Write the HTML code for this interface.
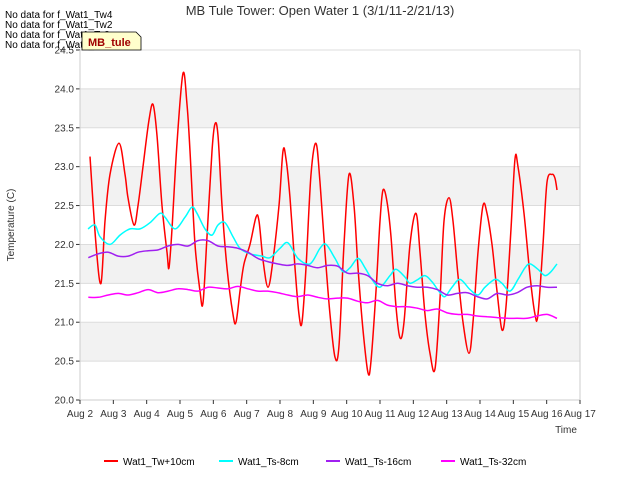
<!DOCTYPE html>
<html><head><meta charset="utf-8"><style>
body{margin:0;background:#fff;font-family:"Liberation Sans",sans-serif}
svg text{font-family:"Liberation Sans",sans-serif}
</style></head><body>
<svg id="chart" width="640" height="480" xmlns="http://www.w3.org/2000/svg">
<rect width="640" height="480" fill="#fff"/>
<g id="bands"></g>
<g id="grid"></g>
<g id="axes"></g>
<g id="series"></g>
<text x="320" y="15" text-anchor="middle" font-size="13" fill="#333">MB Tule Tower: Open Water 1 (3/1/11-2/21/13)</text>
<text x="14" y="225" transform="rotate(-90 14 225)" text-anchor="middle" font-size="10" fill="#333">Temperature (C)</text>
<text x="566" y="433" text-anchor="middle" font-size="10" fill="#333">Time</text>
<g font-size="10" fill="#000">
<text x="5" y="18">No data for f_Wat1_Tw4</text>
<text x="5" y="28">No data for f_Wat1_Tw2</text>
<text x="5" y="38">No data for f_Wat1_Ts2</text>
<text x="5" y="48">No data for f_Wat1_Ts4</text>
</g>
<g>
<path d="M82,32 L136,32 L141,37 L141,50 L82,50 Z" fill="#ffffcc" stroke="#000" stroke-width="0.8"/>
<text x="88" y="46" font-size="11" font-weight="bold" fill="#a00000">MB_tule</text>
</g>
<g id="legend" font-size="10" fill="#000"></g>
</svg>
<script>
const yTicks=[20.0,20.5,21.0,21.5,22.0,22.5,23.0,23.5,24.0,24.5];
const xTickLabels=["Aug 2","Aug 3","Aug 4","Aug 5","Aug 6","Aug 7","Aug 8","Aug 9","Aug 10","Aug 11","Aug 12","Aug 13","Aug 14","Aug 15","Aug 16","Aug 17"];
const seriesNames=["Wat1_Tw+10cm","Wat1_Ts-8cm","Wat1_Ts-16cm","Wat1_Ts-32cm"];
const redT=[.30,.48,.63,.75,.90,1.17,1.35,1.44,1.62,1.74,1.89,2.07,2.19,2.31,2.46,2.61,2.67,2.76,2.91,3.09,3.21,3.30,3.45,3.60,3.69,3.81,3.96,4.05,4.14,4.26,4.41,4.59,4.68,4.80,4.92,5.10,5.28,5.37,5.49,5.64,5.79,5.97,6.09,6.18,6.30,6.45,6.57,6.66,6.78,6.93,7.08,7.20,7.35,7.50,7.65,7.77,7.92,8.07,8.22,8.34,8.49,8.64,8.73,8.88,9.00,9.09,9.21,9.33,9.48,9.60,9.72,9.90,10.08,10.20,10.35,10.50,10.65,10.80,10.92,11.07,11.19,11.34,11.49,11.67,11.79,11.94,12.09,12.21,12.36,12.51,12.66,12.78,12.93,13.05,13.14,13.32,13.50,13.65,13.74,13.89,14.01,14.16,14.25,14.31];
const redV=[23.13,22.0,21.5,22.3,22.9,23.3,22.9,22.6,22.25,22.5,23.0,23.6,23.8,23.4,22.5,21.9,21.7,22.2,23.3,24.2,23.8,23.2,22.0,21.4,21.25,22.1,23.2,23.55,23.4,22.5,21.7,21.1,21.0,21.4,21.75,22.0,22.35,22.3,21.8,21.45,21.8,22.5,23.2,23.1,22.6,21.7,21.1,21.0,21.7,22.9,23.3,22.8,21.9,21.1,20.55,20.7,22.0,22.9,22.5,21.7,20.9,20.35,20.5,21.4,22.3,22.7,22.55,22.1,21.2,20.8,21.0,22.0,22.4,21.9,21.1,20.6,20.4,21.3,22.3,22.6,22.3,21.6,21.0,20.6,21.0,21.9,22.5,22.4,22.0,21.4,20.9,21.2,22.2,23.1,23.0,22.4,21.6,21.1,21.1,22.0,22.8,22.9,22.85,22.7];
const cyanT=[.24,.45,.60,.90,1.20,1.50,1.80,2.10,2.40,2.55,2.85,3.15,3.36,3.51,3.75,3.96,4.14,4.35,4.59,4.80,5.10,5.46,5.70,6.00,6.24,6.54,6.90,7.20,7.38,7.65,7.89,8.10,8.34,8.55,8.76,9.00,9.30,9.48,9.75,9.90,10.14,10.35,10.56,10.80,10.95,11.16,11.40,11.70,11.94,12.15,12.45,12.66,12.90,13.14,13.35,13.50,13.74,13.95,14.13,14.31];
const cyanV=[22.2,22.25,22.1,22.0,22.12,22.2,22.2,22.28,22.4,22.35,22.2,22.35,22.48,22.4,22.2,22.12,22.25,22.28,22.1,21.95,21.88,21.85,21.83,21.95,22.02,21.82,21.75,21.95,22.0,21.82,21.65,21.7,21.82,21.7,21.55,21.45,21.6,21.68,21.58,21.5,21.55,21.6,21.52,21.38,21.33,21.45,21.55,21.42,21.35,21.45,21.55,21.5,21.4,21.55,21.7,21.75,21.68,21.6,21.65,21.75];
const purpleV=[21.83,21.88,21.9,21.85,21.85,21.9,21.92,21.93,21.98,22.0,21.98,22.05,22.05,21.98,21.97,21.95,21.9,21.82,21.78,21.75,21.73,21.75,21.73,21.7,21.73,21.72,21.63,21.63,21.6,21.5,21.47,21.5,21.47,21.45,21.45,21.42,21.35,21.37,21.38,21.33,21.3,21.37,21.35,21.38,21.45,21.47,21.45,21.45];
const magentaV=[21.32,21.32,21.35,21.37,21.35,21.38,21.42,21.38,21.4,21.43,21.42,21.4,21.45,21.44,21.43,21.46,21.43,21.4,21.4,21.38,21.35,21.33,21.35,21.32,21.3,21.31,21.31,21.27,21.25,21.28,21.22,21.2,21.2,21.18,21.15,21.17,21.12,21.1,21.1,21.08,21.07,21.06,21.05,21.05,21.05,21.08,21.1,21.05];
const seriesStart=0.25, seriesEnd=14.31;
const colors=["#ff0000","#00ffff","#a020f0","#ff00ff"];

const NS="http://www.w3.org/2000/svg";
const X0=80,X1=580,Y0=400,Y1=50;
const xs=d=>X0+(X1-X0)*d/15;
const ys=v=>Y0-(Y0-Y1)*(v-20)/4.5;
function mk(tag,attrs,parent){const e=document.createElementNS(NS,tag);for(const k in attrs)e.setAttribute(k,attrs[k]);parent.appendChild(e);return e;}
const bands=document.getElementById('bands'),grid=document.getElementById('grid'),axes=document.getElementById('axes'),ser=document.getElementById('series'),leg=document.getElementById('legend');
for(let i=1;i<yTicks.length-1;i+=2){
  const r=mk('rect',{x:X0,y:ys(yTicks[i+1]),width:X1-X0,height:ys(yTicks[i])-ys(yTicks[i+1]),fill:'#f2f2f2'},bands);
  
  
}
yTicks.forEach(v=>{
  const l=mk('line',{x1:X0,x2:X1,y1:ys(v),y2:ys(v),stroke:'#dcdcdc','stroke-width':1},grid);
  
  
  mk('line',{x1:X0-4,x2:X0,y1:ys(v),y2:ys(v),stroke:'#333'},axes);
  const t=mk('text',{x:X0-6,y:ys(v)+3.5,'text-anchor':'end','font-size':10,fill:'#333'},axes);
  t.textContent=v.toFixed(1);
  
  
});
mk('line',{x1:X0,x2:X0,y1:Y1,y2:Y0,stroke:'#ccc'},axes);
mk('line',{x1:X1,x2:X1,y1:Y1,y2:Y0,stroke:'#ccc'},axes);
mk('line',{x1:X0,x2:X1,y1:Y0,y2:Y0,stroke:'#ccc'},axes);
xTickLabels.forEach((s,i)=>{
  mk('line',{x1:xs(i),x2:xs(i),y1:Y0,y2:Y0+4,stroke:'#333'},axes);
  const t=mk('text',{x:xs(i),y:Y0+17,'text-anchor':'middle','font-size':10,fill:'#333'},axes);
  t.textContent=s;
  
  
});
function lin(n){const a=[];for(let i=0;i<n;i++)a.push(seriesStart+(seriesEnd-seriesStart)*i/(n-1));return a;}
function smooth(P){
  let d='M'+P[0][0].toFixed(1)+','+P[0][1].toFixed(1);
  for(let i=0;i<P.length-1;i++){
    const p0=P[Math.max(0,i-1)],p1=P[i],p2=P[i+1],p3=P[Math.min(P.length-1,i+2)];
    const c1x=p1[0]+(p2[0]-p0[0])/6,c1y=p1[1]+(p2[1]-p0[1])/6;
    const c2x=p2[0]-(p3[0]-p1[0])/6,c2y=p2[1]-(p3[1]-p1[1])/6;
    d+=' C'+c1x.toFixed(1)+','+c1y.toFixed(1)+' '+c2x.toFixed(1)+','+c2y.toFixed(1)+' '+p2[0].toFixed(1)+','+p2[1].toFixed(1);
  }
  return d;
}
const all=[[redT,redV],[cyanT,cyanV],[lin(purpleV.length),purpleV],[lin(magentaV.length),magentaV]];
all.forEach(([T,V],k)=>{
  const P=V.map((v,i)=>[xs(T[i]),ys(v)]);
  const p=mk('path',{d:smooth(P),fill:'none',stroke:colors[k],'stroke-width':1.5,'stroke-linejoin':'round'},ser);
  
  
});
const legX=[104,219,326,441];
seriesNames.forEach((s,k)=>{
  const g=mk('g',{},leg);
  
  
  mk('line',{x1:legX[k],x2:legX[k]+14,y1:461,y2:461,stroke:colors[k],'stroke-width':2},g);
  const t=mk('text',{x:legX[k]+19,y:465},g);
  t.textContent=s;
});
</script>
</body></html>
